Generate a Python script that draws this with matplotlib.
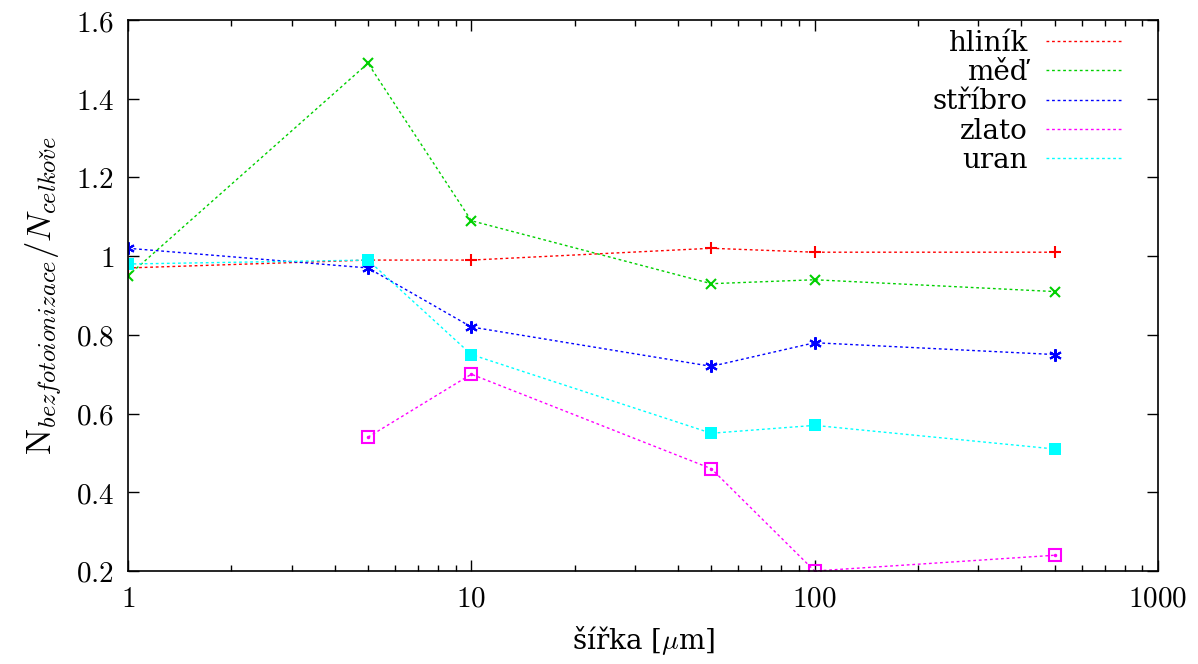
import numpy as np
import matplotlib
matplotlib.use('Agg')
from matplotlib import pyplot as plt
from matplotlib.ticker import LogLocator, FixedLocator, NullFormatter

# data
x = [1, 5, 10, 50, 100, 500]
hlinik = [0.97, 0.99, 0.99, 1.02, 1.01, 1.01]
med = [0.95, 1.49, 1.09, 0.93, 0.94, 0.91]
stribro = [1.02, 0.97, 0.82, 0.72, 0.78, 0.75]
x_zlato = [5, 10, 50, 100, 500]
zlato = [0.54, 0.70, 0.46, 0.20, 0.24]
uran = [0.98, 0.99, 0.75, 0.55, 0.57, 0.51]
xticks = [1, 10, 100, 1000]
yticks = [0.2, 0.4, 0.6, 0.8, 1.0, 1.2, 1.4, 1.6]
ytick_labels = ['0.2', '0.4', '0.6', '0.8', '1', '1.2', '1.4', '1.6']
names = ['hliník', 'měď', 'stříbro', 'zlato', 'uran']

plt.rcParams['font.family'] = ['DejaVu Serif']
plt.rcParams['mathtext.fontset'] = 'cm'

fig = plt.figure(figsize=(11.98, 6.64), dpi=100)
ax = fig.add_axes([128/1198, 1 - 571/664, (1158-128)/1198, (571-20)/664])

ls = (0, (2, 2))
lw = 1.0
colors = ['#ff0000', '#00d000', '#0000ff', '#ff00ff', '#00ffff']
ax.plot(x, hlinik, color=colors[0], ls=ls, lw=lw, marker='+', ms=8, mew=1.5)
ax.plot(x, med, color=colors[1], ls=ls, lw=lw, marker='x', ms=7, mew=1.5)
ax.plot(x, stribro, color=colors[2], ls=ls, lw=lw, marker=(6, 2, 0), ms=9, mew=1.5)
ax.plot(x_zlato, zlato, color=colors[3], ls=ls, lw=lw, marker='s', ms=8, mfc='none', mew=1.5)
ax.plot(x_zlato, zlato, color=colors[3], ls='none', marker='.', ms=3)
ax.plot(x, uran, color=colors[4], ls=ls, lw=lw, marker='s', ms=8, mew=0)

ax.set_xscale('log')
ax.set_xlim(1, 1000)
ax.set_ylim(0.2, 1.6)
ax.xaxis.set_major_locator(FixedLocator(xticks))
ax.set_xticklabels(['$\\mathrm{%d}$' % t for t in xticks])
ax.xaxis.set_minor_locator(LogLocator(subs=np.arange(2, 10)))
ax.xaxis.set_minor_formatter(NullFormatter())
ax.set_yticks(yticks)
ax.set_yticklabels(['$\\mathrm{%s}$' % t for t in ytick_labels])
ax.tick_params(which='both', direction='in', top=True, right=True, labelsize=21)
ax.tick_params(which='major', length=8, width=1)
ax.tick_params(which='minor', length=4, width=1)
ax.tick_params(axis='x', pad=10)
ax.tick_params(axis='y', pad=10)
for s in ax.spines.values():
    s.set_linewidth(1.2)

ax.set_xlabel('šířka [$\\mu$m]', fontsize=20, labelpad=8)
ax.set_ylabel(r'$\mathrm{N}_{bezfotoionizace}/N_{celkov\check{e}}$', fontsize=25, labelpad=8)

lines = [plt.Line2D([], [], color=c, ls=ls, lw=lw) for c in colors]
ax.legend(lines, names, loc='upper right', frameon=False,
          bbox_to_anchor=(0.965, 0.982),
          markerfirst=False, fontsize=20, handlelength=2.75, labelspacing=0.08,
          borderaxespad=0.0, handletextpad=0.65, borderpad=0.0)

fig.savefig('out.png', dpi=100)
